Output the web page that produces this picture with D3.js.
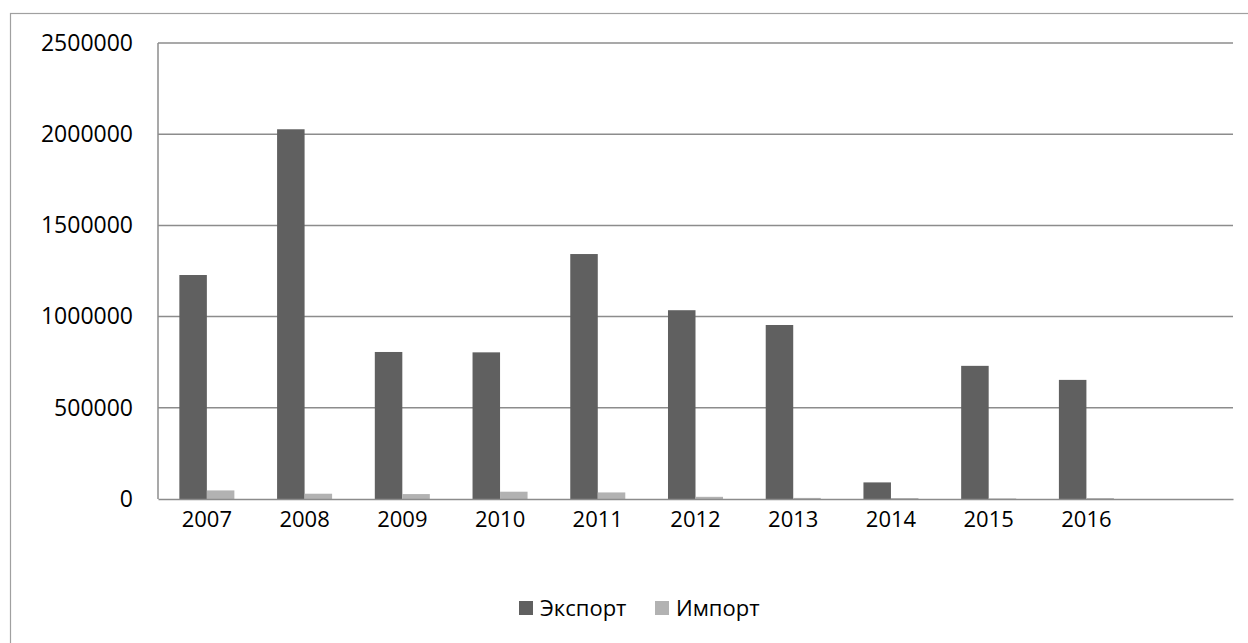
<!DOCTYPE html>
<html>
<head>
<meta charset="utf-8">
<script src="https://cdn.jsdelivr.net/npm/d3@7"></script>
<style>
  html, body { margin: 0; padding: 0; background: #ffffff; }
  svg { display: block; }
  text { font-family: "Open Sans", "Noto Sans", sans-serif; fill: #000; }
</style>
</head>
<body>
<svg id="chart" width="1248" height="643"></svg>
<script>
const years = ["2007","2008","2009","2010","2011","2012","2013","2014","2015","2016"];
const seriesNames = ["Экспорт", "Импорт"];
const exportValues = [1228000, 2027000, 806000, 804000, 1343000, 1035000, 954000, 91000, 730000, 653000];
const importValues = [47000, 29000, 27000, 40000, 36000, 12000, 6000, 5000, 3000, 5000];
const yTicks = [0, 500000, 1000000, 1500000, 2000000, 2500000];
const seriesColors = ["#606060", "#b2b2b2"];

const svg = d3.select("#chart");
const W = 1248, H = 643;
const plot = { left: 158, right: 1233, top: 43, bottom: 499 };

// outer chart border
svg.append("rect")
  .attr("x", 10.5).attr("y", 13.5)
  .attr("width", W + 10).attr("height", H + 10)
  .attr("fill", "#fff").attr("stroke", "#a0a0a0").attr("stroke-width", 1.2);

// domain includes an extra empty slot at the end, as in the original
const domain = years.concat([""]);
const x0 = d3.scaleBand().domain(domain).range([plot.left, plot.right])
  .paddingInner(0.437).paddingOuter(0.2185);
const x1 = d3.scaleBand().domain(seriesNames).range([0, x0.bandwidth()]).padding(0);
const y = d3.scaleLinear().domain([0, 2500000]).range([plot.bottom, plot.top]);

// grid
svg.append("g")
  .selectAll("line").data(yTicks.filter(d => d > 0)).join("line")
  .attr("x1", plot.left).attr("x2", plot.right)
  .attr("y1", d => y(d)).attr("y2", d => y(d))
  .attr("stroke", "#8c8c8c").attr("stroke-width", 1.5);

// left axis line
svg.append("line")
  .attr("x1", plot.left).attr("x2", plot.left)
  .attr("y1", plot.top).attr("y2", plot.bottom)
  .attr("stroke", "#8c8c8c").attr("stroke-width", 1.5);

// y labels via d3 axis
const yAxis = d3.axisLeft(y).tickValues(yTicks).tickSize(0).tickPadding(25)
  .tickFormat(d3.format("d"));
svg.append("g").attr("transform", `translate(${plot.left},0)`).call(yAxis)
  .call(g => g.select(".domain").remove())
  .call(g => g.selectAll("text").attr("font-size", 23)
    .attr("font-family", "'Open Sans', sans-serif").attr("fill", "#000"));

// bars
const data = years.map((yr, i) => ({ year: yr, values: [exportValues[i], importValues[i]] }));
const groups = svg.append("g").selectAll("g").data(data).join("g")
  .attr("transform", d => `translate(${x0(d.year)},0)`);
groups.selectAll("rect")
  .data(d => d.values.map((v, j) => ({ name: seriesNames[j], value: v, j })))
  .join("rect")
  .attr("x", d => x1(d.name))
  .attr("y", d => y(d.value))
  .attr("width", x1.bandwidth())
  .attr("height", d => y(0) - y(d.value))
  .attr("fill", d => seriesColors[d.j]);

// x axis
const xAxis = d3.axisBottom(x0).tickSize(0).tickPadding(12);
svg.append("g").attr("transform", `translate(0,${plot.bottom})`).call(xAxis)
  .call(g => g.select(".domain").attr("stroke", "#8c8c8c").attr("stroke-width", 1.5))
  .call(g => g.selectAll("text").attr("font-size", 22)
    .attr("font-family", "'Open Sans', sans-serif").attr("fill", "#000"));

// legend
const legend = svg.append("g");
const legendItems = [
  { name: seriesNames[0], color: seriesColors[0], x: 519 },
  { name: seriesNames[1], color: seriesColors[1], x: 655 }
];
const li = legend.selectAll("g").data(legendItems).join("g")
  .attr("transform", d => `translate(${d.x},601)`);
li.append("rect").attr("width", 14).attr("height", 14).attr("fill", d => d.color);
li.append("text").attr("x", 21).attr("y", 7).attr("dy", "0.35em")
  .attr("font-size", 22).text(d => d.name);
</script>
</body>
</html>
